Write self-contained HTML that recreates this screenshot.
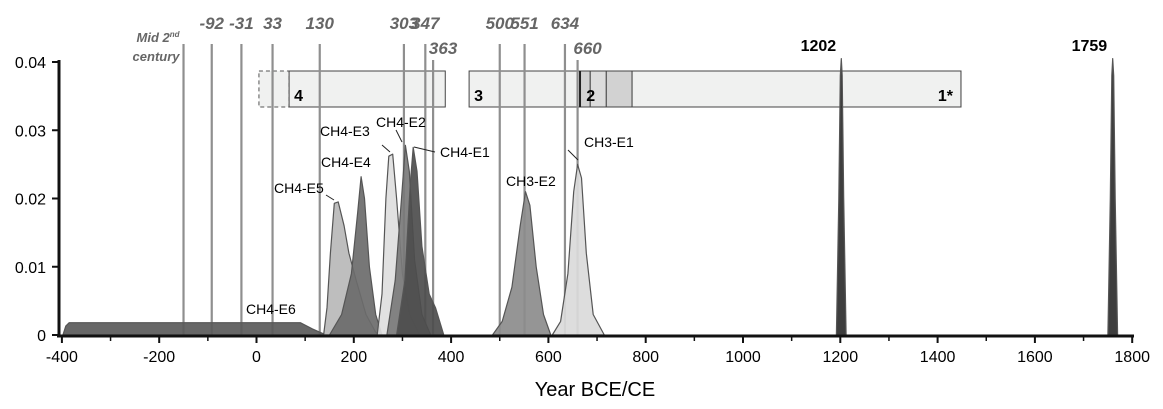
<!DOCTYPE html>
<html><head><meta charset="utf-8"><style>
body{margin:0;background:#fff}
svg{display:block;font-family:"Liberation Sans",Arial,sans-serif}
</style></head><body>
<svg id="chart" width="1163" height="409" viewBox="0 0 1163 409" xmlns="http://www.w3.org/2000/svg"></svg>
<script>
const xTicks=[-400,-200,0,200,400,600,800,1000,1200,1400,1600,1800];
const yTicks=[0,0.01,0.02,0.03,0.04];
const yTickLabels=["0","0.01","0.02","0.03","0.04"];
const eventYears=[-150,-92,-31,33,130,303,347,363,500,551,634,660];
const eventLabels=["","-92","-31","33","130","303","347","363","500","551","634","660"];
const eventLow=[false,false,false,false,false,false,false,true,false,false,false,true];
const seriesNames=["CH4-E6","CH4-E5","CH4-E4","CH4-E3","CH4-E2","CH4-E1","CH3-E2","CH3-E1","S1202","S1759"];
const e6=[[-398,0],[-392,0.0013],[-385,0.0018],[-300,0.0018],[-200,0.0018],[0,0.0018],[90,0.0018],[115,0.0009],[140,0.0001],[150,0]];
const e5=[[138,0],[145,0.004],[152,0.012],[160,0.0193],[168,0.0195],[180,0.016],[190,0.012],[205,0.008],[225,0.003],[245,0.0004],[255,0]];
const e4=[[150,0],[175,0.003],[195,0.009],[208,0.018],[215,0.0232],[222,0.02],[232,0.01],[245,0.003],[258,0]];
const e3=[[248,0],[258,0.006],[266,0.02],[272,0.0262],[280,0.0265],[288,0.02],[300,0.009],[315,0.003],[335,0]];
const e2=[[268,0],[285,0.008],[298,0.02],[306,0.0278],[314,0.024],[325,0.011],[340,0.003],[358,0]];
const e1=[[288,0],[305,0.008],[316,0.022],[322,0.0275],[330,0.024],[340,0.013],[355,0.006],[368,0.004],[385,0]];
const c2=[[485,0],[505,0.002],[525,0.007],[542,0.016],[553,0.021],[562,0.019],[575,0.01],[590,0.003],[605,0]];
const c1=[[608,0],[625,0.002],[640,0.009],[652,0.021],[660,0.025],[668,0.023],[678,0.012],[692,0.003],[715,0]];
const s1202=[[1192,0],[1197,0.02],[1200,0.038],[1202,0.0405],[1204,0.038],[1207,0.02],[1212,0]];
const s1759=[[1750,0],[1755,0.02],[1758,0.038],[1760,0.0405],[1762,0.038],[1765,0.02],[1770,0]];
const seriesData=[e6,e5,e4,e3,e2,e1,c2,c1,s1202,s1759];
const seriesFill=["#5a5a5a","#b9b9b9","#6b6b6b","#dedede","#7a7a7a","#4d4d4d","#8c8c8c","#dadada","#2e2e2e","#2e2e2e"];
const periodStarts=[67,437,665,686,719,772];
const periodEnds=[388,1448,686,719,772,1448];
const periodLabels=["4","3","2","","","1*"];
const X=v=>256.5+v*0.4865, Y=v=>335-v*6825;
const svg=document.getElementById('chart');NS="http://www.w3.org/2000/svg";
function mk(t,a,p){const e=document.createElementNS(NS,t);for(const k in a)e.setAttribute(k,a[k]);(p||svg).appendChild(e);return e;}
// boxes
let b=mk('rect',{x:X(5),y:71,width:X(67)-X(5),height:36,fill:'#f0f1f0',stroke:'#555','stroke-dasharray':'4,3'});

const pfill=["#f0f1f0","#f0f1f0","#d2d2d2","#dcdcdc","#d2d2d2","#f0f1f0"];
periodStarts.forEach((s,i)=>{const r=mk('rect',{x:X(s),y:71,width:X(periodEnds[i])-X(s),height:36,fill:pfill[i],stroke:'#444','stroke-width':1});
});
mk('line',{x1:X(665),x2:X(665),y1:71,y2:107,stroke:'#222','stroke-width':2});
[[X(67)+5,'4','start'],[X(437)+5,'3','start'],[X(686)-4,'2','start'],[X(1448)-8,'1*','end']].forEach(t=>{const e=mk('text',{x:t[0],y:101,'font-size':16,'font-weight':'bold','text-anchor':t[2]});e.textContent=t[1];
});
// event lines
eventYears.forEach((yr,i)=>{const l=mk('line',{x1:X(yr),x2:X(yr),y1:eventLow[i]?60:44,y2:335,stroke:'#8f8f8f','stroke-width':2.2});

if(eventLabels[i]){const t=mk('text',{x:X(yr)+(eventLow[i]?10:0),y:eventLow[i]?54:29,'font-size':17,'font-weight':'bold','font-style':'italic',fill:'#666','text-anchor':'middle'});t.textContent=eventLabels[i];
}});
const m1=mk('text',{x:X(-150)-4,y:42,'font-size':13,'font-weight':'bold','font-style':'italic',fill:'#666','text-anchor':'end'});m1.innerHTML='Mid 2<tspan font-size="8" dy="-5">nd</tspan>';

const m2=mk('text',{x:X(-150)-4,y:61,'font-size':13,'font-weight':'bold','font-style':'italic',fill:'#666','text-anchor':'end'});m2.textContent='century';

// series
seriesData.forEach((pts,i)=>{const d='M'+pts.map(p=>X(p[0]).toFixed(1)+','+Y(p[1]).toFixed(1)).join(' L')+' Z';
const p=mk('path',{d:d,fill:seriesFill[i],'fill-opacity':0.92,stroke:'#555','stroke-width':1.2,'stroke-linejoin':'round'});
});
// series labels
const labs=[["CH4-E6",246,314],["CH4-E5",274,193],["CH4-E4",321,167],["CH4-E3",320,136],["CH4-E2",376,127],["CH4-E1",440,157],["CH3-E2",506,186],["CH3-E1",584,147]];
labs.forEach(l=>{const t=mk('text',{x:l[1],y:l[2],'font-size':14});t.textContent=l[0];
});
[[326,195,334,200],[382,145,390,152],[396,130,402,142],[414,147,435,152],[568,150,578,160]].forEach(c=>mk('line',{x1:c[0],y1:c[1],x2:c[2],y2:c[3],stroke:'#222','stroke-width':1}));
[[1202,'1202'],[1759,'1759']].forEach(s=>{const t=mk('text',{x:X(s[0]-47),y:51,'font-size':16,'font-weight':'bold','text-anchor':'middle'});t.textContent=s[1];
});
// axes
let ax=mk('line',{x1:57,x2:1134,y1:336,y2:336,stroke:'#111','stroke-width':3});
let ay=mk('line',{x1:59,x2:59,y1:60,y2:337,stroke:'#111','stroke-width':3});
xTicks.forEach((v,i)=>{mk('line',{x1:X(v),x2:X(v),y1:336,y2:343,stroke:'#111','stroke-width':2});
if(i<xTicks.length-1)mk('line',{x1:X(v+100),x2:X(v+100),y1:336,y2:341,stroke:'#111','stroke-width':1.5});
const t=mk('text',{x:X(v),y:362,'font-size':16,'text-anchor':'middle'});t.textContent=v;
});
yTicks.forEach((v,i)=>{mk('line',{x1:52,x2:59,y1:Y(v),y2:Y(v),stroke:'#111','stroke-width':2});
const t=mk('text',{x:46,y:Y(v)+6,'font-size':16,'text-anchor':'end'});t.textContent=yTickLabels[i];
});
const xt=mk('text',{x:595,y:396,'font-size':20,'text-anchor':'middle'});xt.textContent='Year BCE/CE';

</script>
</body></html>
